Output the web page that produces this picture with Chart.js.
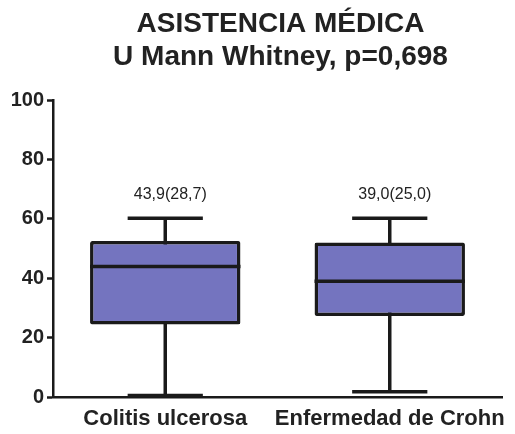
<!DOCTYPE html>
<html>
<head>
<meta charset="utf-8">
<script src="https://cdn.jsdelivr.net/npm/chart.js@4.4.0/dist/chart.umd.min.js"></script>
<style>
html,body{margin:0;padding:0;background:#fff;}
#wrap{width:515px;height:434px;position:relative;}
</style>
</head>
<body>
<div id="wrap"><canvas id="c" width="515" height="434"></canvas></div>
<script>
const categories = ["Colitis ulcerosa", "Enfermedad de Crohn"];
const minValues = [0.5, 1.8];
const q1Values = [24.4, 27.3];
const medianValues = [43.9, 39.0];
const q3Values = [52.5, 52.0];
const maxValues = [60.2, 60.2];
const annotations = ["43,9(28,7)", "39,0(25,0)"];
const annotationY = [68, 68];
const yTicks = [0, 20, 40, 60, 80, 100];
const titleLines = ["ASISTENCIA MÉDICA", "U Mann Whitney, p=0,698"];

const FONT = "'Liberation Sans', Arial, sans-serif";

const titlePlugin = {
  id: 'centeredTitle',
  afterDraw(chart) {
    const ctx = chart.ctx;
    const a = chart.chartArea;
    const cx = (a.left + a.right) / 2 + 3;
    ctx.save();
    ctx.fillStyle = '#222';
    ctx.font = 'bold 28px ' + FONT;
    ctx.textAlign = 'center';
    ctx.textBaseline = 'alphabetic';
    ctx.fillText(titleLines[0], cx, 32);
    ctx.fillText(titleLines[1], cx, 65);
    ctx.restore();
  }
};

const boxPlugin = {
  id: 'boxWhiskers',
  beforeDatasetsDraw(chart) {
    const ctx = chart.ctx;
    const x = chart.scales.x, y = chart.scales.y;
    const meta = chart.getDatasetMeta(0);
    ctx.save();
    ctx.strokeStyle = '#1a1a1a';
    ctx.lineWidth = 3.5;
    categories.forEach((c, i) => {
      const cx = x.getPixelForValue(i);
      const bw = meta.data[i].width;
      const capHalf = bw / 4;
      ctx.beginPath();
      ctx.moveTo(cx, y.getPixelForValue(maxValues[i]));
      ctx.lineTo(cx, y.getPixelForValue(minValues[i]));
      ctx.stroke();
      [maxValues[i], minValues[i]].forEach(v => {
        const py = y.getPixelForValue(v);
        ctx.beginPath();
        ctx.moveTo(cx - capHalf, py);
        ctx.lineTo(cx + capHalf, py);
        ctx.stroke();
      });
    });
    ctx.restore();
  },
  afterDatasetsDraw(chart) {
    const ctx = chart.ctx;
    const x = chart.scales.x, y = chart.scales.y;
    const meta = chart.getDatasetMeta(0);
    ctx.save();
    ctx.strokeStyle = '#1a1a1a';
    ctx.lineWidth = 3.5;
    categories.forEach((c, i) => {
      const cx = x.getPixelForValue(i);
      const bw = meta.data[i].width;
      const py = y.getPixelForValue(medianValues[i]);
      ctx.beginPath();
      ctx.moveTo(cx - bw / 2, py);
      ctx.lineTo(cx + bw / 2, py);
      ctx.stroke();
      ctx.fillStyle = '#222';
      ctx.font = '16px ' + FONT;
      ctx.textAlign = 'center';
      ctx.textBaseline = 'middle';
      ctx.fillText(annotations[i], cx + 5, y.getPixelForValue(annotationY[i]));
    });
    ctx.restore();
  }
};

new Chart(document.getElementById('c'), {
  type: 'bar',
  data: {
    labels: categories,
    datasets: [{
      data: categories.map((c, i) => [q1Values[i], q3Values[i]]),
      backgroundColor: '#7474bf',
      borderColor: '#1a1a1a',
      borderWidth: 3.5,
      borderSkipped: false,
      borderRadius: 2,
      categoryPercentage: 1,
      barPercentage: 0.67
    }]
  },
  options: {
    responsive: false,
    animation: false,
    layout: { padding: { left: 0, right: 13, top: 100, bottom: 0 } },
    plugins: {
      legend: { display: false },
      tooltip: { enabled: false },
      title: { display: false }
    },
    scales: {
      x: {
        grid: { display: false, drawOnChartArea: false, tickLength: 6, tickWidth: 2.5, tickColor: '#1a1a1a' },
        border: { display: true, color: '#1a1a1a', width: 2.5 },
        ticks: { color: '#222', font: { family: FONT, size: 22, weight: 'bold' }, padding: 3, maxRotation: 0, autoSkip: false },
        afterFit(s) { s.height = 37; }
      },
      y: {
        min: 0, max: 100,
        afterBuildTicks(s) { s.ticks = yTicks.map(v => ({ value: v })); },
        grid: { drawOnChartArea: false, tickLength: 6, tickWidth: 2.5, tickColor: '#1a1a1a' },
        border: { display: true, color: '#1a1a1a', width: 2.5 },
        ticks: { color: '#222', font: { family: FONT, size: 20, weight: 'bold' }, padding: 3 },
        afterFit(s) { s.width = 53; }
      }
    }
  },
  plugins: [boxPlugin, titlePlugin]
});
</script>
</body>
</html>
